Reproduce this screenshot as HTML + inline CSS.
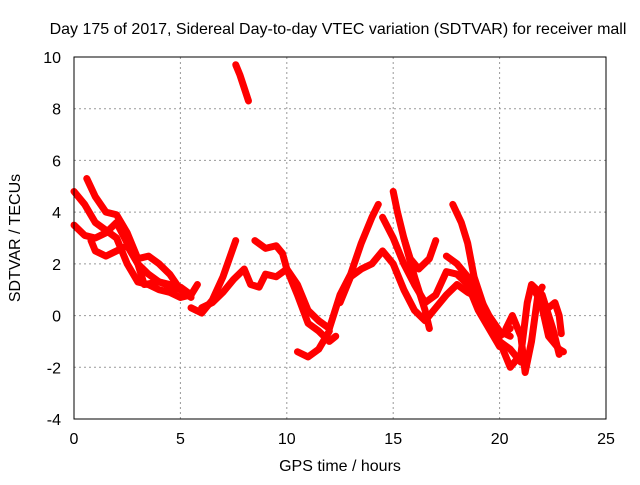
<!DOCTYPE html>
<html><head><meta charset="utf-8"><style>
body{margin:0;background:#fff}
svg{font-family:"Liberation Sans",sans-serif;font-size:16px}
</style></head><body>
<svg id="chart" width="640" height="480">
<rect width="640" height="480" fill="#fff"/>
<text x="338" y="34" text-anchor="middle">Day 175 of 2017, Sidereal Day-to-day VTEC variation (SDTVAR) for receiver mall</text>
<text x="340" y="471" text-anchor="middle">GPS time / hours</text>
<text transform="translate(20,238) rotate(-90)" text-anchor="middle">SDTVAR / TECUs</text>
<g id="grid"></g><g id="series"></g>
<rect x="74" y="57" width="532" height="362" fill="none" stroke="#000" stroke-width="1"/>
</svg>
<script>
const xTicks=[0,5,10,15,20,25];
const yTicks=[-4,-2,0,2,4,6,8,10];
const strandA=[[0,4.8],[0.5,4.3],[1,3.6],[1.5,3.3],[2,3.0],[2.5,2.0],[3,1.3],[3.5,1.2],[4,1.0],[4.5,0.9],[5,0.7],[5.5,0.8],[5.8,1.2]];
const strandB=[[0.6,5.3],[1,4.6],[1.5,4.0],[2,3.9],[2.5,3.2],[3,2.2],[3.5,2.3],[4,2.0],[4.5,1.6],[5,1.0],[5.5,0.7]];
const strandC=[[0,3.5],[0.5,3.1],[1,3.0],[1.5,3.2],[2,3.6],[2.5,2.8],[3,2.0],[3.5,1.6],[4,1.3],[5,1.0]];
const strandD=[[0.8,2.9],[1,2.5],[1.5,2.3],[2,2.5],[2.5,2.7],[3,2.0],[3.3,1.2],[4,1.3],[5,1.1],[5.5,0.8]];
const strandE=[[5.5,0.3],[6,0.1],[6.5,0.6],[7,1.5],[7.6,2.9]];
const strandF=[[6,0.3],[6.5,0.5],[7,0.9],[7.5,1.4],[8,1.8],[8.3,1.2],[8.7,1.1],[9,1.6],[9.5,1.5],[10,1.8],[10.5,1.2],[11,0.2],[11.5,-0.2],[12,-0.5]];
const strandG=[[8.5,2.9],[9,2.6],[9.5,2.7],[9.8,2.4],[10,1.8],[10.5,0.8],[11,-0.3],[11.5,-0.6],[12,-1.0],[12.3,-0.8]];
const strandH=[[10.5,-1.4],[11,-1.6],[11.5,-1.3],[12,-0.6]];
const strandSpike=[[7.6,9.7],[7.8,9.3],[8,8.8],[8.2,8.3]];
const strandI=[[12,-0.5],[12.5,0.8],[13,1.6],[13.5,2.8],[14,3.8],[14.3,4.3]];
const strandJ=[[12.5,0.5],[13,1.5],[13.5,1.8],[14,2.0],[14.5,2.5],[15,2.0],[15.5,1.0],[16,0.2],[16.5,-0.2],[17,0.3],[17.5,0.8],[18,1.2],[18.5,0.9],[19,0.7],[19.5,-0.2],[20,-0.8],[20.5,-0.5]];
const strandK=[[14.5,3.8],[15,3.0],[15.5,2.0],[16,1.2],[16.5,0.5],[17,0.8],[17.5,1.7],[18,1.6],[18.5,1.2],[19,0.2],[19.5,-0.5],[20,-1.2]];
const strandL=[[15,4.8],[15.2,4.0],[15.5,3.0],[16,1.5],[16.5,0.2],[16.7,-0.5]];
const strandN=[[15.5,3.0],[15.8,2.2],[16.2,1.8],[16.7,2.2],[17,2.9]];
const strandO=[[17.8,4.3],[18.2,3.6],[18.5,2.8],[18.8,1.5],[19.2,0.5],[19.5,-0.3],[20,-1.0],[20.5,-1.3],[21,-1.8]];
const strandP=[[17.5,2.3],[18,2.0],[18.5,1.5],[19,0.8],[19.5,0.0],[20,-0.6],[20.5,-0.8]];
const strandQ=[[20,-1.0],[20.5,-2.0],[21,-1.5],[21.3,0.5],[21.5,1.2],[22,0.8],[22.5,-0.5],[22.8,-1.5]];
const strandQ2=[[20.3,-0.5],[20.6,0.0],[21,-0.8],[21.2,-2.2],[21.5,-1.0],[21.8,0.8],[22,1.1]];
const strandR=[[21.6,1.0],[22,0.5],[22.3,0.3],[22.6,0.5],[22.8,0.0],[22.9,-0.7]];
const strandS=[[22,0.3],[22.3,-0.8],[22.5,-1.0],[22.8,-1.3],[23,-1.4]];
const allStrands=[strandA,strandB,strandC,strandD,strandE,strandF,strandG,strandH,strandSpike,strandI,strandJ,strandK,strandL,strandN,strandO,strandP,strandQ,strandQ2,strandR,strandS];
const NS="http://www.w3.org/2000/svg";
function xs(h){return 74+h*(532/25);}
function ys(v){return 57+(10-v)*(362/14);}
const grid=document.getElementById('grid');
xTicks.forEach(t=>{
 const X=xs(t);
 if(t>0&&t<25){const l=document.createElementNS(NS,'line');l.setAttribute('x1',X);l.setAttribute('x2',X);l.setAttribute('y1',57);l.setAttribute('y2',419);l.setAttribute('stroke','#999');l.setAttribute('stroke-dasharray','2,3');
 
 grid.appendChild(l);}
 const tx=document.createElementNS(NS,'text');tx.setAttribute('x',X);tx.setAttribute('y',444);tx.setAttribute('text-anchor','middle');tx.textContent=t;
 
 grid.appendChild(tx);
});
yTicks.forEach(t=>{
 const Y=ys(t);
 if(t>-4&&t<10){const l=document.createElementNS(NS,'line');l.setAttribute('x1',74);l.setAttribute('x2',606);l.setAttribute('y1',Y);l.setAttribute('y2',Y);l.setAttribute('stroke','#999');l.setAttribute('stroke-dasharray','2,3');
 
 grid.appendChild(l);}
 const tx=document.createElementNS(NS,'text');tx.setAttribute('x',61);tx.setAttribute('y',Y+6);tx.setAttribute('text-anchor','end');tx.textContent=t;
 
 grid.appendChild(tx);
});
const sg=document.getElementById('series');
allStrands.forEach(s=>{
 const p=document.createElementNS(NS,'polyline');
 p.setAttribute('points',s.map(d=>xs(d[0])+','+ys(d[1])).join(' '));
 p.setAttribute('fill','none');p.setAttribute('stroke','#f00');p.setAttribute('stroke-width','7');p.setAttribute('stroke-linejoin','round');p.setAttribute('stroke-linecap','round');
 
 
 sg.appendChild(p);
});
</script>
</body></html>
